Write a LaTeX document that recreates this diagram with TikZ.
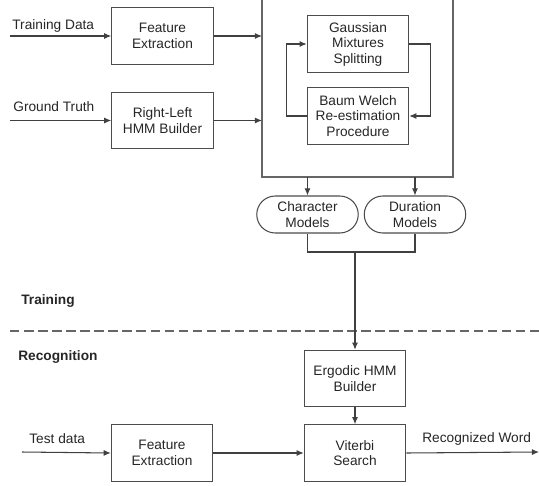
\documentclass[tikz,border=0pt]{standalone}
\usepackage{fontspec}
\setmainfont{Liberation Sans}
\usetikzlibrary{arrows.meta,positioning}

\begin{document}
\begin{tikzpicture}[x=0.02cm,y=-0.02cm,
  font=\fontsize{7.8}{8.8}\selectfont,
  blk/.style={draw=black!70,line width=0.6pt,align=center,inner sep=0pt,
    minimum width=2.03cm,minimum height=1.13cm,text=black!85},
  mdl/.style={blk,minimum height=0.74cm,rounded corners=0.37cm},
  wire/.style={draw=black!75,line width=0.6pt},
  conn/.style={wire,-{Latex[length=4pt,width=3.4pt]}},
  lbl/.style={inner sep=0pt,anchor=base west,text=black!85}]
\useasboundingbox (0,0) rectangle (539,485);
% training part
\node[blk] (fe1) at (162.5,36) {Feature\\Extraction};
\node[blk] (rl) at (162.5,120.5) {Right-Left\\HMM Builder};
\draw[wire,draw=black!60] (262,0) |- (453,177) -- (453,0);
\coordinate (bigL) at (262,0);
\coordinate (bigB) at (0,177);
\node[blk] (gms) at (358,44) {Gaussian\\Mixtures\\Splitting};
\node[blk] (bw) at (358,116) {Baum Welch\\Re-estimation\\Procedure};
\node[mdl] (cm) at (307.5,214.5) {Character\\Models};
\node[mdl] (dm) at (415,214.5) {Duration\\Models};
\node[lbl] (tdl) at (12,29) {Training Data};
\node[lbl] (gtl) at (13,111) {Ground Truth};
\coordinate (tdin) at (10,36);
\coordinate (gtin) at (10,120.5);
\draw[conn] (tdin) -- (fe1.west);
\draw[conn] (gtin) -- (rl.west);
\draw[conn] (fe1.east) -- (fe1.east -| bigL);
\draw[conn] (rl.east) -- (rl.east -| bigL);
\draw[conn] (bw.west) -- ++(-20,0) |- (gms.west);
\draw[conn] (gms.east) -- ++(21,0) |- (bw.east);
\draw[conn] (cm.north |- bigB) -- (cm.north);
\draw[conn] (dm.north |- bigB) -- (dm.north);
\coordinate (mrg) at (355,252);
\draw[wire] (cm.south) |- (dm.south |- mrg) -- (dm.south);
% split between the two phases
\node[lbl,font=\fontsize{7.8}{8.8}\selectfont\bfseries] (trn) at (21,304) {Training};
\draw[black!60,line width=0.6pt,dash pattern=on 5.4pt off 2.6pt] (10,331) -- (539,331);
\node[lbl,font=\fontsize{7.8}{8.8}\selectfont\bfseries] (rec) at (18,360) {Recognition};
% recognition part
\node[blk] (erg) at (355,378.5) {Ergodic HMM\\Builder};
\node[blk] (vit) at (355,453) {Viterbi\\Search};
\node[blk] (fe2) at (162,453) {Feature\\Extraction};
\draw[conn] (mrg) -- (erg.north);
\draw[conn] (erg) -- (vit);
\node[lbl] (tsl) at (29,443) {Test data};
\node[lbl] (rwl) at (422,442) {Recognized Word};
\coordinate (tsin) at (22,452);
\coordinate (out) at (539,452);
\draw[conn] (tsin) -- (fe2.west);
\draw[conn] (fe2) -- (vit);
\draw[conn] (vit.east) -- (out);
\end{tikzpicture}
\end{document}
